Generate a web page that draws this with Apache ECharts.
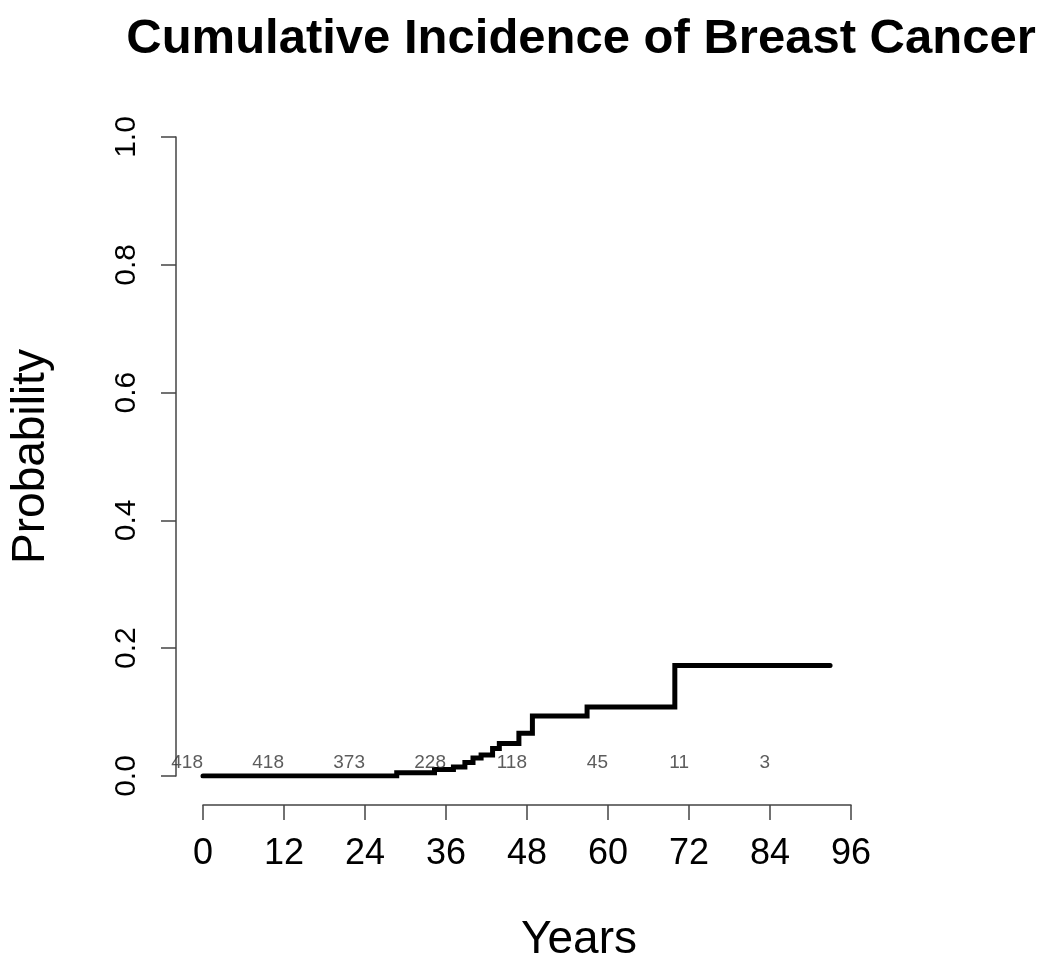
<!DOCTYPE html>
<html>
<head>
<meta charset="utf-8">
<script src="https://cdn.jsdelivr.net/npm/echarts@6/dist/echarts.min.js"></script>
<style>
html,body{margin:0;padding:0;background:#fff;}
#chart{width:1050px;height:968px;}
</style>
</head>
<body>
<div id="chart"></div>
<script>
// Step function: event times (years) and cumulative incidence after each step
const stepTimes = [0, 28.7, 34.3, 37.1, 38.8, 40.0, 41.2, 42.9, 43.9, 46.8, 48.8, 56.9, 69.9, 92.9];
const stepProbs = [0, 0.005, 0.010, 0.014, 0.021, 0.028, 0.033, 0.043, 0.051, 0.067, 0.094, 0.108, 0.173, 0.173];
// Numbers at risk
const riskTimes = [0, 12, 24, 36, 48, 60, 72, 84];
const riskCounts = [418, 418, 373, 228, 118, 45, 11, 3];
// Axis ticks
const xTicks = [0, 12, 24, 36, 48, 60, 72, 84, 96];
const yTicks = [0, 0.2, 0.4, 0.6, 0.8, 1.0];

const FONT = "'Liberation Sans', Arial, Helvetica, sans-serif";
const NARROW = "'Liberation Sans Narrow', 'Arial Narrow', 'Liberation Sans', sans-serif";
const curve = stepTimes.map((t, i) => [t, stepProbs[i]]);
const risk = riskTimes.map((t, i) => ({ value: [t, 0], label: { formatter: String(riskCounts[i]) } }));

const chart = echarts.init(document.getElementById('chart'));
chart.setOption({
  backgroundColor: '#ffffff',
  animation: false,
  title: {
    text: 'Cumulative Incidence of Breast Cancer',
    left: 576,
    textAlign: 'center',
    top: 10,
    textStyle: { fontFamily: FONT, fontWeight: 'bold', fontSize: 49, color: '#000' }
  },
  grid: { left: 196, right: 199, top: 137, bottom: 188 },
  xAxis: {
    type: 'value',
    min: xTicks[0], max: xTicks[xTicks.length - 1], interval: 12,
    offset: 29,
    name: 'Years',
    nameLocation: 'middle',
    nameGap: 112,
    nameTextStyle: { fontFamily: FONT, fontSize: 46, color: '#000', padding: [0, 0, 0, 104] },
    axisLine: { show: true, onZero: false, lineStyle: { color: '#444', width: 1.5 } },
    axisTick: { show: true, length: 15, lineStyle: { color: '#444', width: 1.5 } },
    axisLabel: { fontFamily: NARROW, fontSize: 36, color: '#000', margin: 31 },
    splitLine: { show: false }
  },
  yAxis: {
    type: 'value',
    min: yTicks[0], max: yTicks[yTicks.length - 1], interval: 0.2,
    offset: 27,
    name: 'Probability',
    nameLocation: 'middle',
    nameGap: 122,
    nameTextStyle: { fontFamily: FONT, fontSize: 46, color: '#000' },
    axisLine: { show: true, onZero: false, lineStyle: { color: '#444', width: 1.5 } },
    axisTick: { show: true, length: 15, lineStyle: { color: '#444', width: 1.5 } },
    axisLabel: { fontFamily: FONT, fontSize: 30, color: '#000', rotate: 90, margin: 34, formatter: v => v.toFixed(1) },
    splitLine: { show: false }
  },
  series: [
    {
      type: 'line',
      step: 'end',
      data: curve,
      showSymbol: false,
      symbol: 'none',
      lineStyle: { color: '#000', width: 5, cap: 'round', join: 'miter' },
      z: 3
    },
    {
      type: 'scatter',
      data: risk,
      symbolSize: 0,
      silent: true,
      label: {
        show: true,
        position: 'inside',
        align: 'right',
        verticalAlign: 'middle',
        offset: [0, -13],
        fontFamily: FONT,
        fontSize: 19,
        color: '#333'
      },
      z: 4
    }
  ]
});
</script>
</body>
</html>
